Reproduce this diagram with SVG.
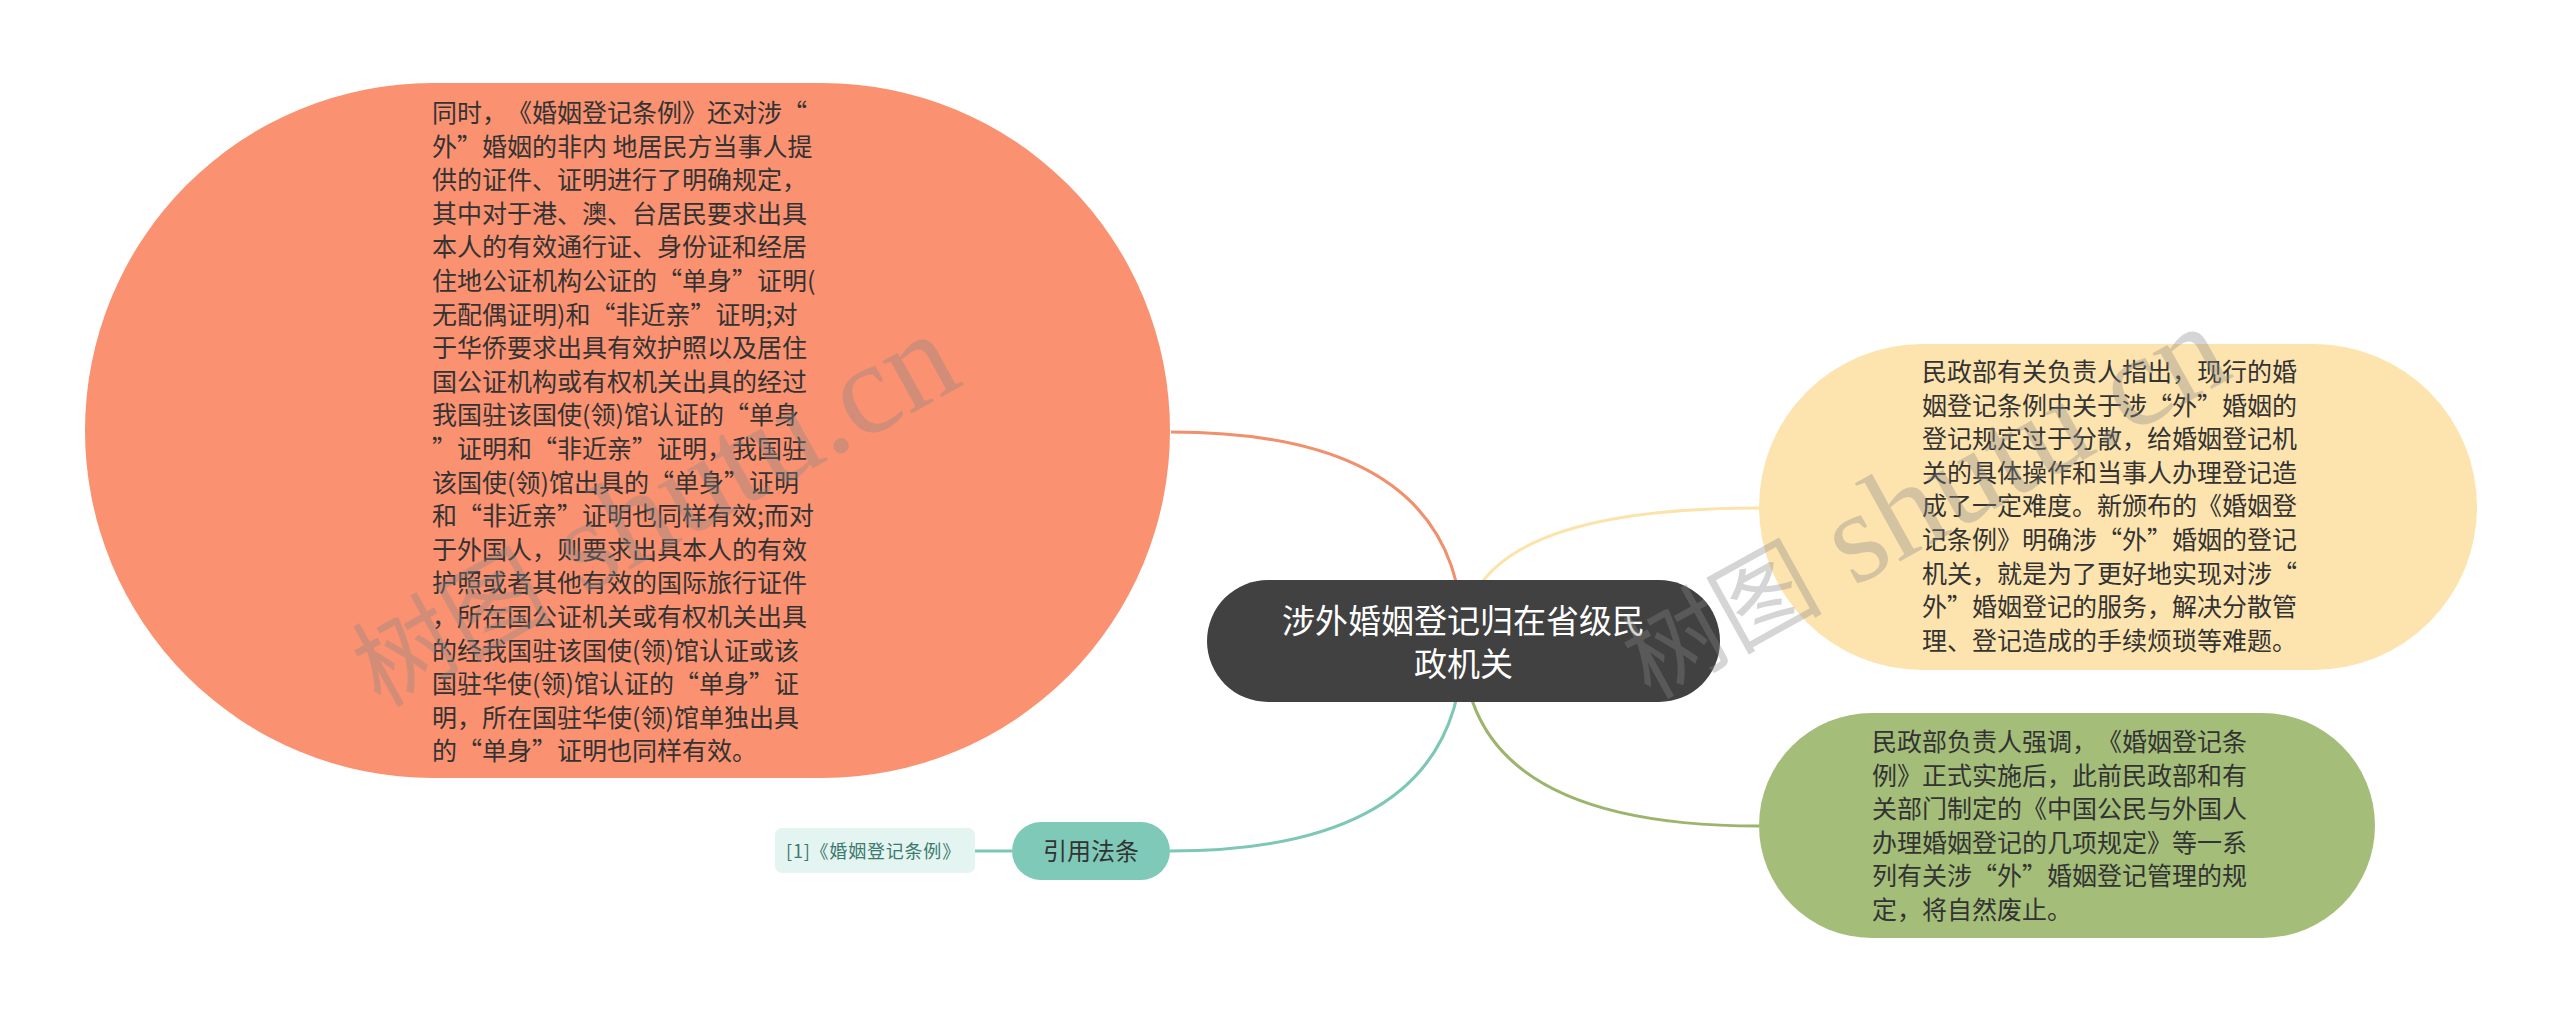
<svg xmlns="http://www.w3.org/2000/svg" width="2560" height="1023" viewBox="0 0 2560 1023">
<style>
text{text-spacing-trim:space-all;font-kerning:none}
.t{font-family:"Noto Sans CJK SC","Microsoft YaHei",sans-serif;font-size:25px;fill:#333}
.c{font-family:"Noto Sans CJK SC","Microsoft YaHei",sans-serif;font-size:33px;fill:#fff;text-anchor:middle}
.conn{fill:none;stroke-width:3}
.wm{font-family:"Liberation Serif","Noto Sans CJK SC",serif;font-size:100px;fill:#888;opacity:0.35}
.wl{font-size:130px}
</style>
<rect width="2560" height="1023" fill="#ffffff"/>
<g id="connectors">
<path class="conn" d="M1463 641 Q1463 432 1171 432" stroke="#F0906C"/>
<path class="conn" d="M1463 641 Q1463 508 1759 508" stroke="#FBE3AA"/>
<path class="conn" d="M1463 641 Q1463 826 1759 826" stroke="#9CB46C"/>
<path class="conn" d="M1463 641 Q1463 851 1170 851" stroke="#7DC7B7"/>
<path class="conn" d="M975 851 L1012 851" stroke="#7DC7B7"/>
</g>
<g id="node-orange">
<rect x="85" y="83" width="1085" height="695" rx="347.5" ry="347.5" fill="#FA9170"/>
<text class="t" x="432" y="122">
<tspan x="432" dy="0">同时，《婚姻登记条例》还对涉“</tspan>
<tspan x="432" dy="33.6">外”婚姻的非内 地居民方当事人提</tspan>
<tspan x="432" dy="33.6">供的证件、证明进行了明确规定，</tspan>
<tspan x="432" dy="33.6">其中对于港、澳、台居民要求出具</tspan>
<tspan x="432" dy="33.6">本人的有效通行证、身份证和经居</tspan>
<tspan x="432" dy="33.6">住地公证机构公证的“单身”证明(</tspan>
<tspan x="432" dy="33.6">无配偶证明)和“非近亲”证明;对</tspan>
<tspan x="432" dy="33.6">于华侨要求出具有效护照以及居住</tspan>
<tspan x="432" dy="33.6">国公证机构或有权机关出具的经过</tspan>
<tspan x="432" dy="33.6">我国驻该国使(领)馆认证的“单身</tspan>
<tspan x="432" dy="33.6">”证明和“非近亲”证明，我国驻</tspan>
<tspan x="432" dy="33.6">该国使(领)馆出具的“单身”证明</tspan>
<tspan x="432" dy="33.6">和“非近亲”证明也同样有效;而对</tspan>
<tspan x="432" dy="33.6">于外国人，则要求出具本人的有效</tspan>
<tspan x="432" dy="33.6">护照或者其他有效的国际旅行证件</tspan>
<tspan x="432" dy="33.6">，所在国公证机关或有权机关出具</tspan>
<tspan x="432" dy="33.6">的经我国驻该国使(领)馆认证或该</tspan>
<tspan x="432" dy="33.6">国驻华使(领)馆认证的“单身”证</tspan>
<tspan x="432" dy="33.6">明，所在国驻华使(领)馆单独出具</tspan>
<tspan x="432" dy="33.6">的“单身”证明也同样有效。</tspan>
</text>
</g>
<g id="node-yellow">
<rect x="1759" y="344" width="718" height="326" rx="163" ry="163" fill="#FDE4AE"/>
<text class="t" x="1922" y="381">
<tspan x="1922" dy="0">民政部有关负责人指出，现行的婚</tspan>
<tspan x="1922" dy="33.6">姻登记条例中关于涉“外”婚姻的</tspan>
<tspan x="1922" dy="33.6">登记规定过于分散，给婚姻登记机</tspan>
<tspan x="1922" dy="33.6">关的具体操作和当事人办理登记造</tspan>
<tspan x="1922" dy="33.6">成了一定难度。新颁布的《婚姻登</tspan>
<tspan x="1922" dy="33.6">记条例》明确涉“外”婚姻的登记</tspan>
<tspan x="1922" dy="33.6">机关，就是为了更好地实现对涉“</tspan>
<tspan x="1922" dy="33.6">外”婚姻登记的服务，解决分散管</tspan>
<tspan x="1922" dy="33.6">理、登记造成的手续烦琐等难题。</tspan>
</text>
</g>
<g id="node-green">
<rect x="1759" y="713" width="616" height="225" rx="112.5" ry="112.5" fill="#A4BE7A"/>
<text class="t" x="1872" y="751">
<tspan x="1872" dy="0">民政部负责人强调，《婚姻登记条</tspan>
<tspan x="1872" dy="33.6">例》正式实施后，此前民政部和有</tspan>
<tspan x="1872" dy="33.6">关部门制定的《中国公民与外国人</tspan>
<tspan x="1872" dy="33.6">办理婚姻登记的几项规定》等一系</tspan>
<tspan x="1872" dy="33.6">列有关涉“外”婚姻登记管理的规</tspan>
<tspan x="1872" dy="33.6">定，将自然废止。</tspan>
</text>
</g>
<g id="node-center">
<rect x="1207" y="580" width="513" height="122" rx="61" ry="61" fill="#414141"/>
<text class="c" x="1463.5" y="633">涉外婚姻登记归在省级民</text>
<text class="c" x="1463.5" y="676">政机关</text>
</g>
<g id="node-teal">
<rect x="1012" y="822" width="158" height="58" rx="29" ry="29" fill="#7FC9B9"/>
<text x="1091" y="860" font-family="Noto Sans CJK SC, sans-serif" font-size="24" fill="#333" text-anchor="middle">引用法条</text>
</g>
<g id="node-ref">
<rect x="775" y="828" width="200" height="45" rx="7" ry="7" fill="#E4F4F1"/>
<text x="786" y="858" font-family="Noto Sans CJK SC, sans-serif" font-size="18" letter-spacing="0.8" fill="#3A7A6E">[1]《婚姻登记条例》</text>
</g>
<g id="watermark">
<text class="wm" transform="translate(380 708) rotate(-29)">树图<tspan class="wl"> shutu.cn</tspan></text>
<text class="wm" transform="translate(1650 700) rotate(-29)">树图<tspan class="wl"> shutu.cn</tspan></text>
</g>
</svg>
